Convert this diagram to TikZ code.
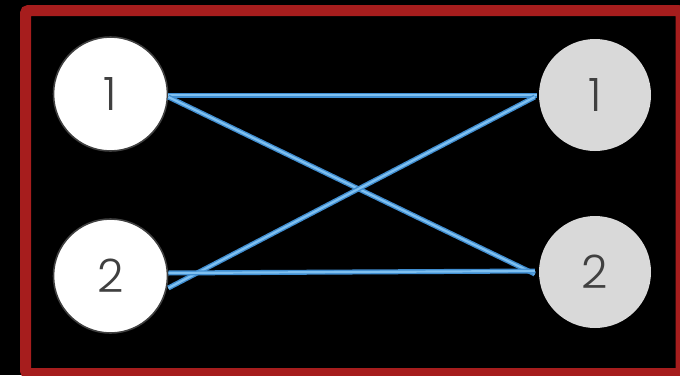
\documentclass[tikz,border=0pt]{standalone}
\usepackage{fontspec}
\setsansfont{Poppins}[UprightFont=* Light]
\definecolor{framered}{HTML}{A61D1D}
\definecolor{digitgray}{HTML}{404040}
\definecolor{rightgray}{HTML}{D9D9D9}
\definecolor{linkdark}{HTML}{3F8DD0}
\definecolor{linklight}{HTML}{7FC0F0}

\begin{document}
\begin{tikzpicture}[x=1pt, y=-1pt, font=\sffamily\fontsize{46}{46}\selectfont,
    lnode/.style={circle, fill=white, draw=digitgray, line width=1.6pt,
      minimum size=114pt, inner sep=0pt, text=digitgray},
    rnode/.style={circle, fill=rightgray, minimum size=112pt, inner sep=0pt,
      text=digitgray},
    link/.style={draw=linkdark, line width=5pt,
      postaction={draw=linklight, line width=2.2pt}}]
  % page and frame
  \useasboundingbox (0,0) rectangle (680,375);
  \fill[black] (0,0) rectangle (680,375);
  \draw[framered, line width=11pt, rounded corners=3pt] (25.5,10.5) rectangle (681,373.5);
  % the two columns
  \node[lnode] (l1) at (110.5,94) {1};
  \node[lnode] (l2) at (110.5,276) {2};
  \node[rnode] (r1) at (595,95) {1};
  \node[rnode] (r2) at (595,272) {2};
  % links
  \draw[link] ([yshift=-1pt]l1.east) -- ([xshift=-2pt]r1.west);
  \draw[link] ([yshift=-3pt]l1.east) -- ([xshift=-4pt,yshift=-2pt]r2.west);
  \draw[link] ([yshift=-12pt]l2.east) -- ([xshift=-4pt,yshift=-2pt]r1.west);
  \draw[link] ([yshift=3pt]l2.east) -- ([xshift=-4pt,yshift=1pt]r2.west);
\end{tikzpicture}
\end{document}
